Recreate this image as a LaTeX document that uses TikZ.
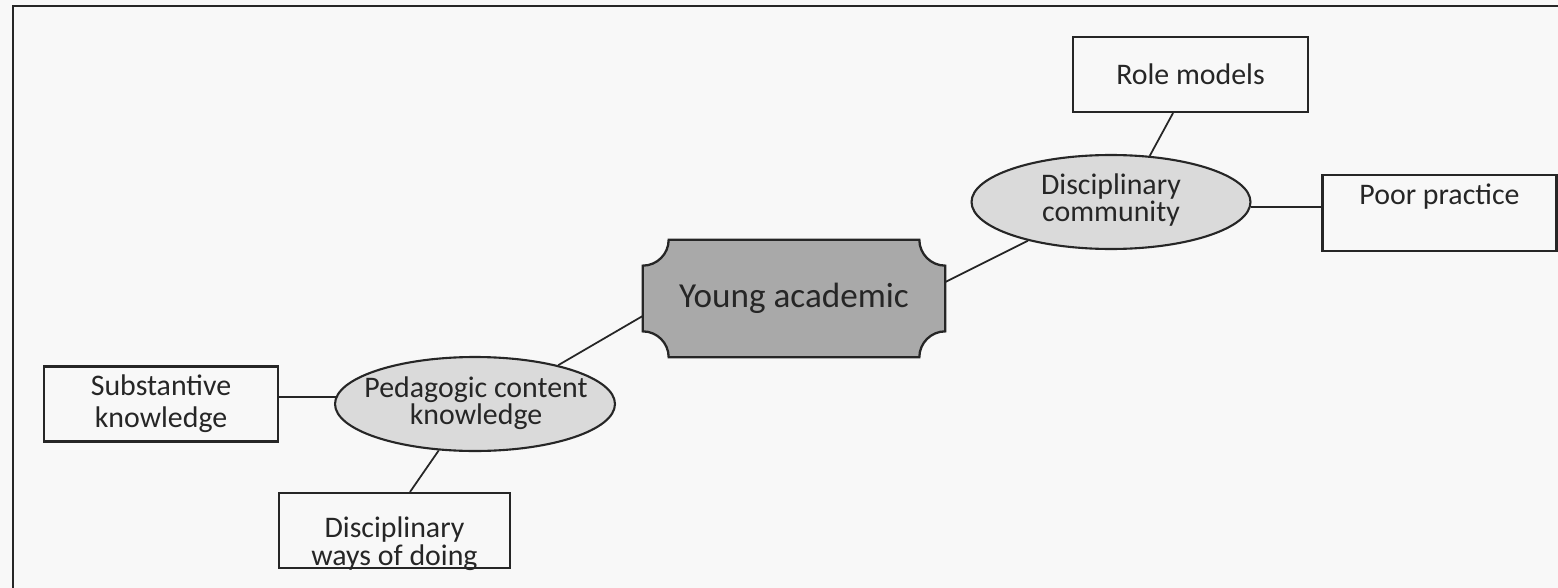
\documentclass[tikz,border=0pt]{standalone}
\usepackage{fontspec}
\setmainfont{Carlito}
\usetikzlibrary{shapes.geometric,backgrounds}

\definecolor{paper}{HTML}{F8F8F8}
\definecolor{ink}{HTML}{262626}
\definecolor{hubfill}{HTML}{A9A9A9}
\definecolor{ovalfill}{HTML}{DADADA}

\tikzset{
  frameline/.style={draw=ink, line width=1.5pt},
  linkline/.style={draw=ink, line width=1pt},
  hub/.style={inner sep=0pt, minimum width=6.04cm, minimum height=2.34cm,
              font=\fontsize{20}{24}\selectfont, text=ink},
  oval/.style={ellipse, draw=ink, line width=1.2pt, fill=ovalfill, inner sep=0pt,
               minimum width=5.58cm, minimum height=1.88cm},
  ovaltext/.style={inner sep=0pt, align=center,
               font=\fontsize{17}{15.5}\selectfont, text=ink},
  leaf/.style={rectangle, draw=ink, line width=1.2pt, fill=paper, inner sep=0pt,
               minimum width=4.68cm, minimum height=1.5cm, align=center,
               font=\fontsize{17}{18}\selectfont, text=ink},
  leaftext/.style={inner sep=0pt, align=center,
               font=\fontsize{17}{14.5}\selectfont, text=ink}
}

\begin{document}
\begin{tikzpicture}[x=0.02cm, y=0.02cm]
  \useasboundingbox (0,0) rectangle (1558,-588);

  % central node with notched corners
  \node[hub] (ya) at (794,-298.5) {Young academic};
  \begin{scope}[on background layer]
    \fill[paper] (0,0) rectangle (1558,-588);
    \def\r{0.52cm}
    \filldraw[fill=hubfill, draw=ink, line width=1.3pt]
      ([yshift=-\r]ya.north west) arc[start angle=-90, end angle=0, radius=\r]
      -- ([xshift=-\r]ya.north east) arc[start angle=180, end angle=270, radius=\r]
      -- ([yshift=\r]ya.south east) arc[start angle=90, end angle=180, radius=\r]
      -- ([xshift=\r]ya.south west) arc[start angle=0, end angle=90, radius=\r]
      -- cycle;
  \end{scope}

  % outer frame
  \draw[frameline] (13,-588) -- (13,-6) -- (1558,-6);

  % second level
  \node[oval] (dc) at (1111,-202) {};
  \node[ovaltext] (dctext) at (1111,-200) {Disciplinary\\community};
  \node[oval, minimum width=5.6cm] (pck) at (475,-404) {};
  \node[ovaltext] (pcktext) at (476,-403) {Pedagogic content\\knowledge};

  % leaves
  \node[leaf, minimum width=4.7cm] (role) at (1190.5,-74.5) {Role models};
  \node[leaf, minimum height=1.52cm] (poor) at (1439.5,-213) {};
  \node[leaftext] (poortext) at (1439.5,-197) {Poor practice};
  \node[leaf] (subst) at (161,-404) {Substantive\\knowledge};
  \node[leaf, minimum width=4.62cm] (ways) at (394.5,-530.5) {};
  \node[leaftext, anchor=base] (waystext) at (394.5,-565) {Disciplinary\\ways of doing};

  % connectors
  \draw[linkline] ([yshift=0.33cm]ya.east) -- (dc.205.7);
  \draw[linkline] ([yshift=-0.35cm]ya.west) -- (pck.25.2);
  \draw[linkline] (dc.50.3) -- ([xshift=-0.35cm]role.south);
  \draw[linkline] (dc.-2.5) -- (dc.-2.5 -| poor.west);
  \draw[linkline] (pck.177.5) -- (pck.177.5 -| subst.east);
  \draw[linkline] (pck.232.4) -- ([xshift=0.31cm]ways.north);
\end{tikzpicture}
\end{document}
